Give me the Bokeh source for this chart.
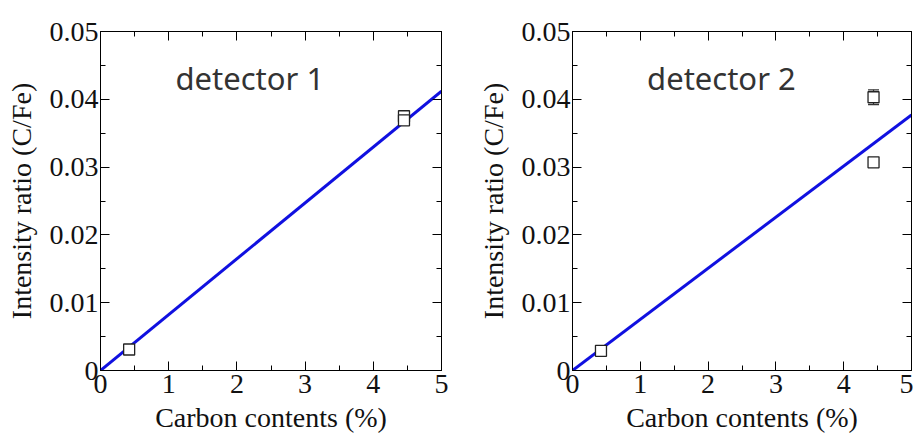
from bokeh.plotting import figure
from bokeh.layouts import row
from bokeh.models import (ColumnDataSource, FixedTicker, LinearAxis, Whisker,
                          TeeHead, CustomJSTickFormatter, Range1d)
from bokeh.core.properties import value
from bokeh.embed import file_html
from bokeh.resources import INLINE

# ---- data ----
x_ticks = [0, 1, 2, 3, 4, 5]
x_minor = [0.5, 1.5, 2.5, 3.5, 4.5]
y_ticks = [0, 0.01, 0.02, 0.03, 0.04, 0.05]
y_minor = [0.005, 0.015, 0.025, 0.035, 0.045]

d1_x = [0.42, 4.45, 4.45]
d1_y = [0.0031, 0.0375, 0.0369]
d1_err = [0.0001, 0.0002, 0.0002]
d1_fit_x = [0, 5]
d1_fit_y = [0, 0.0412]

d2_x = [0.42, 4.44, 4.44]
d2_y = [0.0029, 0.0403, 0.0307]
d2_err = [0.0001, 0.0011, 0.0003]
d2_fit_x = [0, 5]
d2_fit_y = [0, 0.0377]

labels = ["detector 1", "detector 2"]

SERIF = "Liberation Serif"


def make_panel(xs, ys, errs, fx, fy, label, width, bl, br):
    p = figure(width=width, height=435, output_backend="svg", toolbar_location=None,
               x_range=Range1d(0, 5), y_range=Range1d(0, 0.05),
               min_border_left=bl, min_border_right=br, min_border_top=31,
               min_border_bottom=64)
    p.background_fill_color = "white"
    p.border_fill_color = "white"
    p.outline_line_color = "black"
    p.outline_line_width = 1
    p.xgrid.visible = False
    p.ygrid.visible = False

    fmt = CustomJSTickFormatter(code="return Math.abs(tick) < 1e-9 ? '0' : tick.toFixed(2);")
    blank = CustomJSTickFormatter(code="return '';")

    for ax in p.xaxis:
        ax.ticker = FixedTicker(ticks=x_ticks, minor_ticks=x_minor)
        ax.axis_label = "Carbon contents (%)"
        ax.major_label_standoff = 4
        ax.axis_label_standoff = 6
    for ax in p.yaxis:
        ax.ticker = FixedTicker(ticks=y_ticks, minor_ticks=y_minor)
        ax.formatter = fmt
        ax.axis_label = "Intensity ratio (C/Fe)"
        ax.major_label_standoff = 2
        ax.axis_label_standoff = 10

    for ax in list(p.xaxis) + list(p.yaxis):
        ax.major_label_text_font = SERIF
        ax.major_label_text_font_size = "28px"
        ax.major_label_text_color = "#111111"
        ax.axis_label_text_font = SERIF
        ax.axis_label_text_font_size = "28px"
        ax.axis_label_text_font_style = "normal"
        ax.axis_label_text_color = "#111111"
        ax.major_tick_in = 9
        ax.major_tick_out = 0
        ax.minor_tick_in = 5
        ax.minor_tick_out = 0
        ax.axis_line_color = "black"

    top = LinearAxis(ticker=FixedTicker(ticks=x_ticks, minor_ticks=x_minor),
                     formatter=blank, major_tick_in=9, major_tick_out=0,
                     minor_tick_in=5, minor_tick_out=0, major_label_standoff=0)
    right = LinearAxis(ticker=FixedTicker(ticks=y_ticks, minor_ticks=y_minor),
                       formatter=blank, major_tick_in=9, major_tick_out=0,
                       minor_tick_in=5, minor_tick_out=0, major_label_standoff=0)
    p.add_layout(top, "above")
    p.add_layout(right, "right")

    p.line(fx, fy, line_color="#1010e0", line_width=3)

    src = ColumnDataSource(dict(x=xs, y=ys,
                                lo=[y - e for y, e in zip(ys, errs)],
                                hi=[y + e for y, e in zip(ys, errs)]))
    w = Whisker(base="x", lower="lo", upper="hi", source=src, line_color="#333333",
                line_width=1.2,
                upper_head=TeeHead(size=11, line_color="#333333", line_width=1.2),
                lower_head=TeeHead(size=11, line_color="#333333", line_width=1.2))
    p.add_layout(w)
    p.scatter("x", "y", source=src, marker="square", size=11, fill_color="white",
              line_color="#222222", line_width=1.3)

    p.text(x=[1.1], y=[0.0431], text=[label], text_font=value("Noto Sans"),
           text_font_size="31px", text_color="#333333", text_baseline="middle",
           text_align="left")
    return p


p1 = make_panel(d1_x, d1_y, d1_err, d1_fit_x, d1_fit_y, labels[0], 472, 100, 31)
p2 = make_panel(d2_x, d2_y, d2_err, d2_fit_x, d2_fit_y, labels[1], 441, 100, 2)

layout = row(p1, p2)
open("out.html", "w").write(file_html(layout, INLINE))
